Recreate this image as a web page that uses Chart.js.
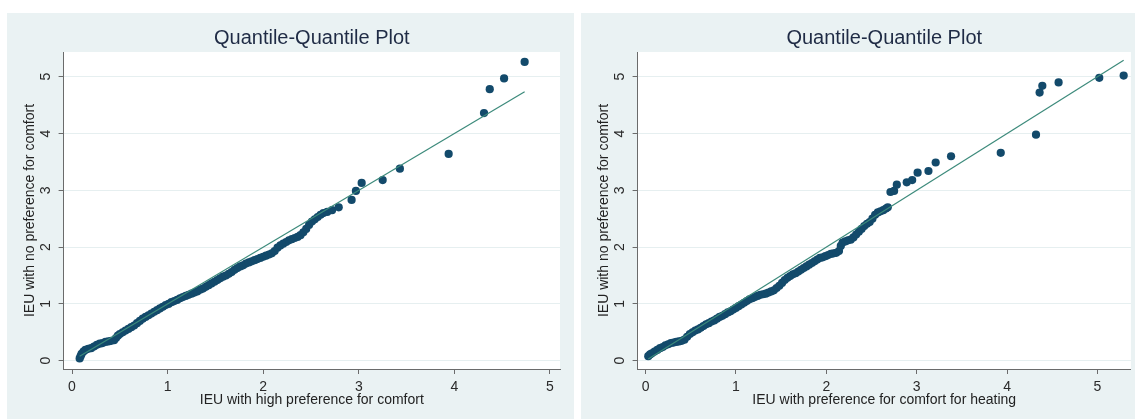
<!DOCTYPE html>
<html>
<head>
<meta charset="utf-8">
<script src="https://cdn.jsdelivr.net/npm/chart.js@4/dist/chart.umd.min.js"></script>
<style>
  body { margin: 0; background: #fff; width: 1135px; height: 419px; position: relative; overflow: hidden; }
  .panel { position: absolute; top: 13px; height: 406px; background: #eaf2f3; }
  #panelLeft { left: 7px; width: 567px; }
  #panelRight { left: 581px; width: 554px; }
  canvas { display: block; }
</style>
</head>
<body>
<div class="panel" id="panelLeft"><canvas id="qqLeft" width="567" height="406"></canvas></div>
<div class="panel" id="panelRight"><canvas id="qqRight" width="554" height="406"></canvas></div>
<script>
// ===== Data =====
const chartTitle = 'Quantile-Quantile Plot';
const yTitle = 'IEU with no preference for comfort';
const xTitleLeft = 'IEU with high preference for comfort';
const xTitleRight = 'IEU with preference for comfort for heating';
const xTicks = [0, 1, 2, 3, 4, 5];
const yTicks = [0, 1, 2, 3, 4, 5];

// left panel: high preference vs no preference
const qqLeftX = [0.08, 0.09, 0.10, 0.12, 0.14, 0.17, 0.20, 0.23, 0.26, 0.29, 0.32, 0.35, 0.38, 0.41, 0.44, 0.46, 0.48, 0.50,
    0.53, 0.56, 0.59, 0.62, 0.65, 0.68, 0.71, 0.74, 0.77, 0.80, 0.83, 0.86, 0.89, 0.92, 0.95, 0.98, 1.01, 1.04, 1.07, 1.10,
    1.13, 1.16, 1.19, 1.22, 1.25, 1.28, 1.31, 1.34, 1.37, 1.40, 1.43, 1.46, 1.49, 1.52, 1.55, 1.58, 1.61, 1.64, 1.67, 1.70,
    1.73, 1.76, 1.79, 1.82, 1.85, 1.88, 1.91, 1.94, 1.97, 2.00, 2.03, 2.06, 2.09, 2.12, 2.15, 2.18, 2.21, 2.24, 2.27, 2.30,
    2.33, 2.36, 2.39, 2.42, 2.45, 2.48, 2.51, 2.54, 2.57, 2.60, 2.63, 2.67, 2.72, 2.79,
    2.925, 2.97, 3.03, 3.25, 3.43, 3.94, 4.31, 4.37, 4.52, 4.735];
const qqLeftY = [0.04, 0.08, 0.12, 0.16, 0.19, 0.21, 0.22, 0.25, 0.28, 0.30, 0.31, 0.33, 0.34, 0.35, 0.36, 0.40, 0.44, 0.47,
    0.50, 0.53, 0.56, 0.59, 0.62, 0.66, 0.70, 0.74, 0.77, 0.80, 0.83, 0.86, 0.89, 0.92, 0.95, 0.98, 1.00, 1.03, 1.05, 1.07,
    1.10, 1.12, 1.14, 1.16, 1.18, 1.20, 1.22, 1.25, 1.27, 1.30, 1.33, 1.36, 1.39, 1.42, 1.45, 1.48, 1.50, 1.53, 1.56, 1.60,
    1.63, 1.66, 1.68, 1.71, 1.73, 1.75, 1.77, 1.79, 1.81, 1.83, 1.85, 1.87, 1.89, 1.93, 1.99, 2.03, 2.06, 2.09, 2.12, 2.14,
    2.16, 2.18, 2.21, 2.26, 2.32, 2.39, 2.45, 2.49, 2.53, 2.57, 2.60, 2.62, 2.65, 2.70,
    2.83, 2.99, 3.13, 3.18, 3.38, 3.64, 4.36, 4.78, 4.97, 5.26];
const refLeft = [0.08, 4.735];

// right panel: preference for heating vs no preference
const qqRightX = [0.03, 0.05, 0.07, 0.10, 0.13, 0.16, 0.19, 0.22, 0.25, 0.28, 0.31, 0.34, 0.37, 0.40, 0.43, 0.46, 0.49, 0.52,
    0.55, 0.58, 0.61, 0.64, 0.67, 0.70, 0.73, 0.76, 0.79, 0.82, 0.85, 0.88, 0.91, 0.94, 0.97, 1.00, 1.03, 1.06, 1.09, 1.12,
    1.15, 1.18, 1.21, 1.24, 1.27, 1.30, 1.33, 1.36, 1.39, 1.42, 1.45, 1.48, 1.51, 1.54, 1.57, 1.60, 1.63, 1.66, 1.69, 1.72,
    1.75, 1.78, 1.81, 1.84, 1.87, 1.90, 1.93, 1.96, 1.99, 2.02, 2.05, 2.08, 2.11, 2.14, 2.16, 2.18, 2.21, 2.24, 2.27, 2.30,
    2.33, 2.36, 2.39, 2.42, 2.45, 2.48, 2.51, 2.54, 2.57, 2.60, 2.63, 2.66, 2.68,
    2.71, 2.75, 2.78, 2.89, 2.95, 3.01, 3.13, 3.21, 3.38, 3.93, 4.32, 4.36, 4.39, 4.57, 5.02, 5.29];
const qqRightY = [0.08, 0.11, 0.13, 0.16, 0.19, 0.22, 0.24, 0.27, 0.29, 0.31, 0.32, 0.33, 0.34, 0.35, 0.37, 0.42, 0.47, 0.50,
    0.53, 0.55, 0.58, 0.61, 0.64, 0.66, 0.69, 0.71, 0.74, 0.77, 0.79, 0.82, 0.85, 0.87, 0.90, 0.93, 0.96, 0.99, 1.02, 1.05,
    1.08, 1.10, 1.12, 1.14, 1.16, 1.17, 1.18, 1.20, 1.22, 1.24, 1.28, 1.32, 1.37, 1.42, 1.46, 1.49, 1.52, 1.54, 1.57, 1.60,
    1.63, 1.66, 1.69, 1.72, 1.75, 1.78, 1.81, 1.82, 1.84, 1.86, 1.88, 1.89, 1.90, 1.93, 2.02, 2.08, 2.10, 2.12, 2.13, 2.17,
    2.22, 2.27, 2.32, 2.37, 2.41, 2.44, 2.50, 2.57, 2.61, 2.63, 2.65, 2.68, 2.70,
    2.97, 2.99, 3.10, 3.14, 3.18, 3.31, 3.34, 3.49, 3.60, 3.66, 3.98, 4.72, 4.84, 4.90, 4.98, 5.02];
const refRight = [0.03, 5.29];

// ===== Colours =====
const MARKER = '#134a6b';
const REFLINE = '#3c8a7b';
const AXIS = '#6b6b6b';
const GRID = '#e6eff0';
const FONT = "'Liberation Sans', Arial, Helvetica, sans-serif";

Chart.defaults.font.family = FONT;

// white plot region on the tinted panel
const plotBg = {
    id: 'plotBg',
    beforeDraw(chart) {
        const { ctx, chartArea: a } = chart;
        ctx.save();
        ctx.fillStyle = '#ffffff';
        ctx.fillRect(a.left, a.top, a.right - a.left, a.bottom - a.top);
        ctx.restore();
    }
};

const makeQQ = (id, xs, ys, ref, xTitle, xMax, padRight) => {
    const points = xs.map((x, i) => ({ x, y: ys[i] }));
    const line = ref.map(v => ({ x: v, y: v }));
    return new Chart(document.getElementById(id), {
        type: 'scatter',
        data: {
            datasets: [
                { type: 'line', data: line, borderColor: REFLINE, borderWidth: 1.2, pointRadius: 0, fill: false, order: 0 },
                { data: points, backgroundColor: MARKER, borderWidth: 0, pointRadius: 4.1, order: 1 }
            ]
        },
        options: {
            responsive: false,
            animation: false,
            layout: { padding: { left: 0, right: padRight, top: 0, bottom: 0 } },
            plugins: {
                legend: { display: false },
                tooltip: { enabled: false },
                title: {
                    display: true, text: chartTitle, fullSize: false,
                    color: '#1f2b45', font: { size: 20, weight: 'normal' },
                    padding: { top: 13, bottom: 2 }
                }
            },
            scales: {
                x: {
                    type: 'linear', min: -0.088, max: xMax,
                    afterBuildTicks: s => { s.ticks = xTicks.map(v => ({ value: v })); },
                    afterFit: s => { s.height = 50; },
                    ticks: { color: '#2a2a2a', font: { size: 14 }, padding: 4.5, maxRotation: 0 },
                    grid: { drawOnChartArea: false, tickLength: 5, color: AXIS },
                    border: { color: AXIS, width: 1 },
                    title: { display: true, text: xTitle, color: '#222', font: { size: 14 }, padding: { top: 0, bottom: 10 } }
                },
                y: {
                    type: 'linear', min: -0.146, max: 5.435,
                    afterBuildTicks: s => { s.ticks = yTicks.map(v => ({ value: v })); },
                    afterFit: s => { s.width = 56.6; },
                    ticks: { color: '#2a2a2a', font: { size: 14 }, padding: 9, minRotation: 90, maxRotation: 90, crossAlign: 'center' },
                    grid: { color: GRID, tickColor: AXIS, tickLength: 5 },
                    border: { color: AXIS, width: 1 },
                    title: { display: true, text: yTitle, color: '#222', font: { size: 14 }, padding: { top: 15, bottom: 0 } }
                }
            }
        },
        plugins: [plotBg]
    });
};

makeQQ('qqLeft', qqLeftX, qqLeftY, refLeft, xTitleLeft, 5.105, 14);
makeQQ('qqRight', qqRightX, qqRightY, refRight, xTitleRight, 5.37, 3);
</script>
</body>
</html>
